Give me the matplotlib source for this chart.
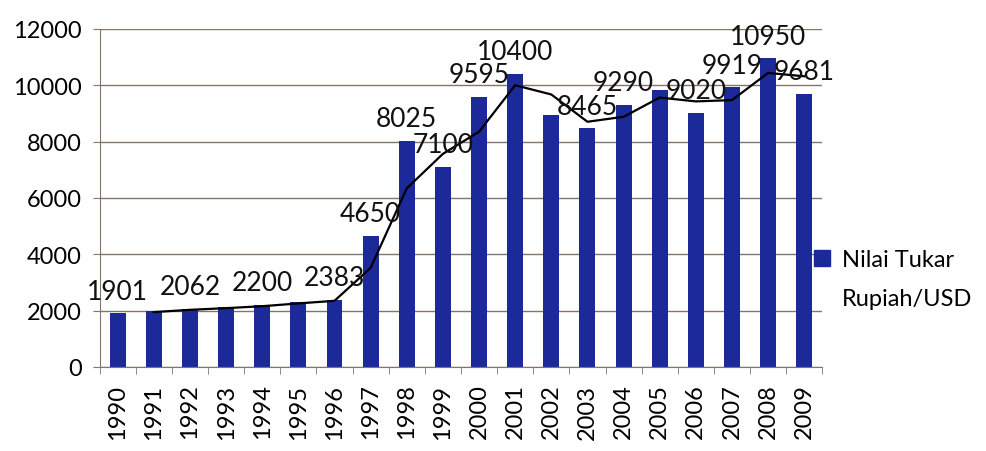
import numpy as np
import matplotlib.pyplot as plt
from matplotlib.patches import Patch

plt.rcParams['font.family'] = ['Lato', 'DejaVu Sans']

years = [str(y) for y in range(1990, 2010)]
kurs = [1901, 1992, 2062, 2110, 2200, 2308, 2383, 4650, 8025, 7100,
        9595, 10400, 8940, 8465, 9290, 9830, 9020, 9919, 10950, 9681]
# labels that are visible on the chart (some were dropped)
kurs_labels = ['1901', '', '2062', '', '2200', '', '2383', '4650', '8025', '7100',
               '9595', '10400', '', '8465', '9290', '', '9020', '9919', '10950', '9681']
# 2-period moving average trend line as drawn
trend = [np.nan, 1946, 2027, 2086, 2155, 2254, 2346, 3516, 6338, 7562,
         8348, 9998, 9670, 8702, 8878, 9560, 9425, 9470, 10435, 10316]

bar_col = '#1b2a98'
grid_col = '#857565'

fig = plt.figure(figsize=(9.86, 4.52), dpi=100)
ax = fig.add_axes([0.101, 0.186, 0.733, 0.748])

x = np.arange(len(years))
bars = ax.bar(x, kurs, width=0.44, color=bar_col, zorder=2)
ax.plot(x, trend, color='black', lw=1.6, zorder=3)
ax.bar_label(bars, labels=kurs_labels, padding=7, fontsize=19, color='#111111')

ax.set_xlim(-0.5, len(years) - 0.5)
ax.set_ylim(0, 12000)
ax.set_yticks(range(0, 12001, 2000))
ax.yaxis.grid(True, color=grid_col, lw=1)
ax.set_axisbelow(True)

ax.set_xticks(x)
ax.set_xticklabels(years, rotation=90, fontsize=17)
ax.set_xticks(np.arange(-0.5, len(years)), minor=True)
ax.tick_params(axis='x', which='major', length=0, pad=12)
ax.tick_params(axis='x', which='minor', length=5, color=grid_col, direction='out')
ax.tick_params(axis='y', length=5, color=grid_col, labelsize=17, pad=8)

for s in ['top', 'right']:
    ax.spines[s].set_visible(False)
for s in ['left', 'bottom']:
    ax.spines[s].set_color(grid_col)

# legend: square next to first line only
ax.legend([Patch(color=bar_col), Patch(alpha=0)], ['Nilai Tukar', 'Rupiah/USD'],
          loc='center left', bbox_to_anchor=(0.975, 0.26), frameon=False,
          fontsize=17, handlelength=0.7, handleheight=0.7, handletextpad=0.5,
          labelspacing=0.75, borderaxespad=0)

fig.savefig('out.png', dpi=100)
